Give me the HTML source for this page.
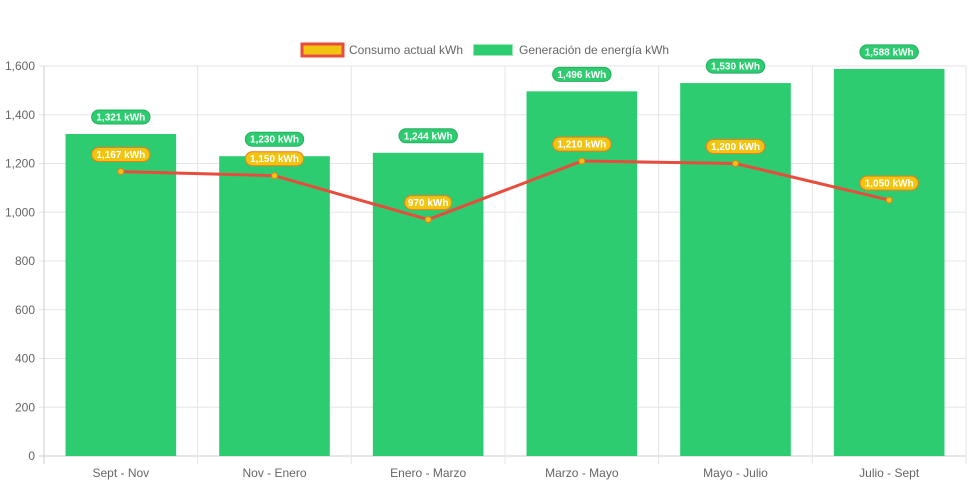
<!DOCTYPE html>
<html><head><meta charset="utf-8"><style>
body{margin:0;background:#fff;font-family:"Liberation Sans",Arial,sans-serif}
</style></head><body>
<svg id="c" width="971" height="485" xmlns="http://www.w3.org/2000/svg"></svg>
<script>
const categories=["Sept - Nov","Nov - Enero","Enero - Marzo","Marzo - Mayo","Mayo - Julio","Julio - Sept"];
const generation=[1321,1230,1244,1496,1530,1588];
const consumption=[1167,1150,970,1210,1200,1050];
const yTicks=[0,200,400,600,800,1000,1200,1400,1600];
const NS="http://www.w3.org/2000/svg";
const svg=document.getElementById('c');
const L=44,R=966,T=66,B=456,yMax=1600;
const cw=(R-L)/categories.length;
const y=v=>B-(v/yMax)*(B-T);
const xc=i=>L+cw*(i+0.5);
function mk(tag,a,parent){const e=document.createElementNS(NS,tag);for(const k in a)e.setAttribute(k,a[k]);(parent||svg).appendChild(e);return e;}
// grid
yTicks.forEach(t=>{
 const g=mk('line',{x1:L-5,x2:R,y1:y(t),y2:y(t),stroke:t===0?'#ccc':'#e5e5e5','stroke-width':1});
 
 
 const tx=mk('text',{x:L-9,y:y(t)+4,'text-anchor':'end','font-size':12,fill:'#666'});
 tx.textContent=t.toLocaleString('en-US');
 
 
});
for(let i=0;i<=categories.length;i++){
 const g=mk('line',{x1:L+cw*i,x2:L+cw*i,y1:T,y2:B+8,stroke:i===0?'#ccc':'#e5e5e5','stroke-width':1});
 
 
}
categories.forEach((c,i)=>{
 const tx=mk('text',{x:xc(i),y:B+21,'text-anchor':'middle','font-size':12,fill:'#666'});
 tx.textContent=c;
 
 
});
// bars
const bw=cw*0.72;
generation.forEach((v,i)=>{
 const r=mk('rect',{x:xc(i)-bw/2,y:y(v),width:bw,height:B-y(v),fill:'#2ecc71'});
 
 
});
// line
const pts=consumption.map((v,i)=>xc(i)+','+y(v)).join(' ');
const pl=mk('polyline',{points:pts,fill:'none',stroke:'#e74c3c','stroke-width':3});


consumption.forEach((v,i)=>{
 const p=mk('circle',{cx:xc(i),cy:y(v),r:3,fill:'#f1c40f',stroke:'#e67e22','stroke-width':1});
 
 
});
function pill(cx,cy,text,fill,stroke,name){
 const w=text.length*5.6+8;
 const r=mk('rect',{x:cx-w/2,y:cy-7,width:w,height:14,rx:7,fill:fill,stroke:stroke,'stroke-width':1});
 
 
 const t=mk('text',{x:cx,y:cy+3.5,'text-anchor':'middle','font-size':10,'font-weight':'bold',fill:'#fff'});
 t.textContent=text;
 
 
}
generation.forEach((v,i)=>pill(xc(i),y(v)-17,v.toLocaleString('en-US')+' kWh','#2ecc71','#27ae60','generation-value-label'));
consumption.forEach((v,i)=>pill(xc(i),y(v)-17,v.toLocaleString('en-US')+' kWh','#f1c40f','#e67e22','consumption-value-label'));
// legend
const l1=mk('rect',{x:302,y:44,width:41,height:12,fill:'#f1c40f',stroke:'#e74c3c','stroke-width':3});


const lt1=mk('text',{x:349,y:54,'font-size':12,fill:'#666'});lt1.textContent='Consumo actual kWh';


const l2=mk('rect',{x:473.5,y:44.5,width:39,height:11,fill:'#2ecc71',stroke:'#9ee6b8','stroke-width':1});


const lt2=mk('text',{x:519,y:54,'font-size':12,fill:'#666'});lt2.textContent='Generación de energía kWh';


</script>
</body></html>
